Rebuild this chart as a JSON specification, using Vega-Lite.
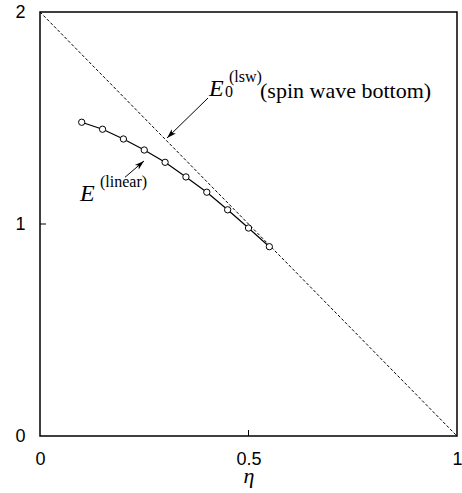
{
  "$schema": "https://vega.github.io/schema/vega-lite/v6.json",
  "width": 417,
  "height": 424,
  "autosize": {"type": "none"},
  "padding": {"left": 40, "top": 12, "right": 5, "bottom": 57},
  "background": "white",
  "config": {
    "view": {"stroke": "black", "strokeWidth": 1.5},
    "axis": {
      "grid": false,
      "domain": false,
      "ticks": false,
      "labelFont": "Liberation Sans",
      "labelFontSize": 18,
      "labelColor": "black",
      "labelFlush": false,
      "labelOverlap": false,
      "titleColor": "black"
    }
  },
  "datasets": {
    "diag": [{"x": 0, "y": 2}, {"x": 1, "y": 0}],
    "linear": [
      {"x": 0.10, "y": 1.480},
      {"x": 0.15, "y": 1.447},
      {"x": 0.20, "y": 1.401},
      {"x": 0.25, "y": 1.349},
      {"x": 0.30, "y": 1.291},
      {"x": 0.35, "y": 1.222},
      {"x": 0.40, "y": 1.150},
      {"x": 0.45, "y": 1.067},
      {"x": 0.50, "y": 0.981},
      {"x": 0.55, "y": 0.893}
    ],
    "arrows": [
      {"id": "lsw", "x": 0.4029, "y": 1.5943, "x2": 0.3046, "y2": 1.4057},
      {"id": "lin", "x": 0.2038, "y": 1.2203, "x2": 0.2494, "y2": 1.2972}
    ],
    "heads": [
      {"id": "lsw", "x": 0.3046, "y": 1.4057},
      {"id": "lin", "x": 0.2494, "y": 1.2972}
    ],
    "xticks": [{"x": 0.5, "y": 0}],
    "yticks": [{"x": 0, "y": 1}],
    "bigE": [
      {"t": "E", "x": 0.4053, "y": 1.6038},
      {"t": "E", "x": 0.0959, "y": 1.1085}
    ],
    "bigtext": [{"t": "(spin wave bottom)", "x": 0.5276, "y": 1.594}],
    "smalltext": [
      {"t": "(lsw)", "x": 0.4532, "y": 1.6698},
      {"t": "0", "x": 0.4436, "y": 1.599},
      {"t": "(linear)", "x": 0.1439, "y": 1.1745}
    ]
  },
  "encoding": {
    "x": {
      "field": "x",
      "type": "quantitative",
      "scale": {"domain": [0, 1], "nice": false, "zero": false},
      "axis": {
        "values": [0, 0.5, 1],
        "labelExpr": "'' + datum.value",
        "labelOverlap": false,
        "labelPadding": 14,
        "title": "η",
        "titleFont": "Liberation Serif",
        "titleFontStyle": "italic",
        "titleFontWeight": "normal",
        "titleFontSize": 22,
        "titlePadding": -3
      }
    },
    "y": {
      "field": "y",
      "type": "quantitative",
      "scale": {"domain": [0, 2], "nice": false, "zero": false},
      "axis": {
        "values": [0, 1, 2],
        "labelExpr": "'' + datum.value",
        "labelOverlap": false,
        "labelPadding": 15,
        "title": null
      }
    }
  },
  "layer": [
    {
      "data": {"name": "xticks"},
      "mark": {"type": "tick", "orient": "vertical", "size": 12, "thickness": 1, "color": "black", "opacity": 1, "clip": true}
    },
    {
      "data": {"name": "yticks"},
      "mark": {"type": "tick", "orient": "horizontal", "size": 12, "thickness": 1, "color": "black", "opacity": 1, "clip": true}
    },
    {
      "data": {"name": "diag"},
      "mark": {"type": "line", "color": "black", "strokeWidth": 1, "strokeDash": [3, 2]}
    },
    {
      "data": {"name": "linear"},
      "mark": {"type": "line", "color": "black", "strokeWidth": 1.2}
    },
    {
      "data": {"name": "linear"},
      "mark": {"type": "point", "shape": "circle", "size": 40, "filled": true, "fill": "white", "stroke": "black", "strokeWidth": 1, "opacity": 1}
    },
    {
      "data": {"name": "arrows"},
      "mark": {"type": "rule", "color": "black", "strokeWidth": 1},
      "encoding": {"x2": {"field": "x2"}, "y2": {"field": "y2"}}
    },
    {
      "data": {"name": "heads"},
      "transform": [{"filter": "datum.id == 'lsw'"}],
      "mark": {"type": "point", "shape": "M0,0L0.6,1.9L0,1.4L-0.6,1.9Z", "size": 100, "filled": true, "color": "black", "opacity": 1, "angle": 225.7}
    },
    {
      "data": {"name": "heads"},
      "transform": [{"filter": "datum.id == 'lin'"}],
      "mark": {"type": "point", "shape": "M0,0L0.6,1.9L0,1.4L-0.6,1.9Z", "size": 100, "filled": true, "color": "black", "opacity": 1, "angle": 49.4}
    },
    {
      "data": {"name": "bigE"},
      "mark": {"type": "text", "align": "left", "baseline": "alphabetic", "font": "Liberation Serif", "fontStyle": "italic", "fontSize": 24, "color": "black"},
      "encoding": {"text": {"field": "t"}}
    },
    {
      "data": {"name": "bigtext"},
      "mark": {"type": "text", "align": "left", "baseline": "alphabetic", "font": "Liberation Serif", "fontSize": 22, "color": "black"},
      "encoding": {"text": {"field": "t"}}
    },
    {
      "data": {"name": "smalltext"},
      "mark": {"type": "text", "align": "left", "baseline": "alphabetic", "font": "Liberation Serif", "fontSize": 16, "color": "black"},
      "encoding": {"text": {"field": "t"}}
    }
  ]
}
